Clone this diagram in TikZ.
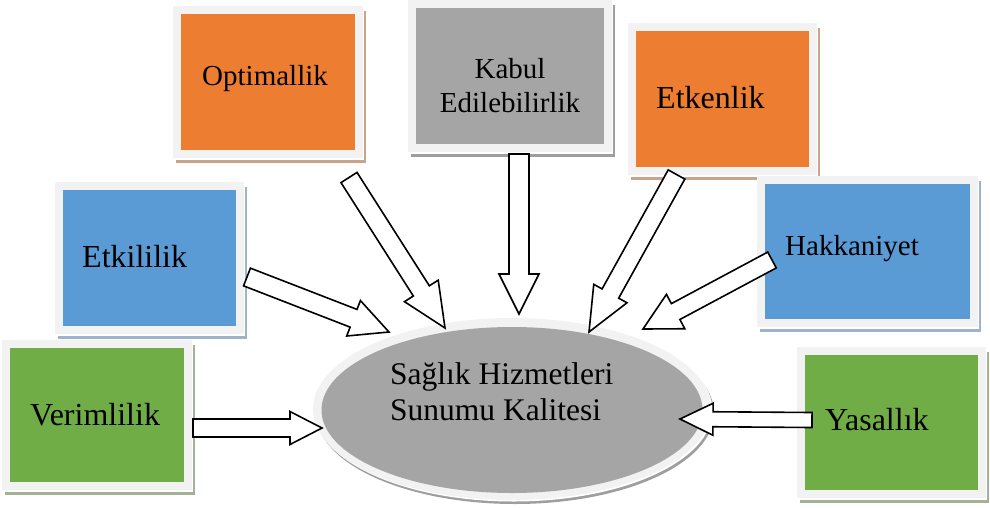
\documentclass[tikz,border=0pt]{standalone}
\usepackage{fontspec}
\setmainfont{Liberation Serif}
\usetikzlibrary{calc,shapes.geometric}
\definecolor{framegray}{HTML}{F2F2F2}
\definecolor{orangeF}{HTML}{ED7D31}
\definecolor{blueF}{HTML}{5B9BD5}
\definecolor{greenF}{HTML}{70AD47}
\definecolor{grayF}{HTML}{A5A5A5}
\definecolor{orangeS}{HTML}{C9A38A}
\definecolor{blueS}{HTML}{9DB3CB}
\definecolor{greenS}{HTML}{A3B296}
\definecolor{grayS}{HTML}{9E9E9E}
\tikzset{
  blockarr/.style={draw=black, fill=white, line width=1.6pt, line join=miter},
  lbl/.style={anchor=base west, inner sep=0, text=black},
  clbl/.style={anchor=base, inner sep=0, text=black},
}
% name, x1, y1, x2, y2, fill, shadow
\newcommand\FacBox[7]{%
  \fill[#7] ({#2+3},{#3+5}) rectangle ({#4+3},{#5+5});
  \fill[white] ({#2},{#3}) rectangle ({#4+1},{#5+1.5});
  \fill[framegray] (#2,#3) rectangle (#4,#5);
  \fill[#6] ({#2+8},{#3+8}) rectangle ({#4-8},{#5-8});
  \coordinate (#1) at ({(#2+#4)/2},{(#3+#5)/2});
}
% tail, tip, shaft half width, head half width, head length
\newcommand\BlkArrow[5]{%
  \coordinate (hb) at ($(#2)!#5!(#1)$);
  \draw[blockarr] ($(#1)!#3!90:(#2)$) -- ($(hb)!#3!-90:(#1)$) -- ($(hb)!#4!-90:(#1)$)
     -- (#2) -- ($(hb)!#4!90:(#1)$) -- ($(hb)!#3!90:(#1)$) -- ($(#1)!#3!-90:(#2)$) -- cycle;
}
\begin{document}
\begin{tikzpicture}[x=1pt,y=-1pt]
\useasboundingbox (0,0) rectangle (990,507);

% boxes
\FacBox{opt}{173}{6}{363}{158}{orangeF}{orangeS}
\FacBox{kab}{408}{0}{612}{152}{grayF}{grayS}
\FacBox{etk}{628}{23}{817}{175}{orangeF}{orangeS}
\FacBox{etki}{55}{182}{244}{334}{blueF}{blueS}
\FacBox{hak}{757}{176}{978}{327}{blueF}{blueS}
\FacBox{ver}{2}{340}{192}{490}{greenF}{greenS}
\FacBox{yas}{797}{347}{986}{498}{greenF}{greenS}

% texts
\node[lbl, font=\fontsize{29}{33}\selectfont] (optT) at (202,85) {Optimallik};
\node[clbl, font=\fontsize{29}{33}\selectfont] (kabT1) at (510,78) {Kabul};
\node[clbl, font=\fontsize{29}{33}\selectfont] (kabT2) at (510,112) {Edilebilirlik};
\node[lbl, font=\fontsize{32}{36}\selectfont] (etkT) at (656,108) {Etkenlik};
\node[lbl, font=\fontsize{32}{36}\selectfont] (etkiT) at (82,267) {Etkililik};
\node[lbl, font=\fontsize{29}{33}\selectfont] (hakT) at (785,255) {Hakkaniyet};
\node[lbl, font=\fontsize{32}{36}\selectfont] (verT) at (30,425) {Verimlilik};
\node[lbl, font=\fontsize{32}{36}\selectfont] (yasT) at (825,430) {Yasallık};

% central ellipse
\node[ellipse, fill=grayS, minimum width=398pt, minimum height=182pt, inner sep=0] (qualS) at (515,413) {};
\node[ellipse, fill=white, minimum width=398pt, minimum height=182pt, inner sep=0] (qualW) at (513.5,410.5) {};
\node[ellipse, fill=framegray, minimum width=398pt, minimum height=182pt, inner sep=0] (qual) at (512,409) {};
\node[ellipse, fill=grayF, minimum width=381pt, minimum height=166pt, inner sep=0] (qualI) at (512,410) {};
\node[lbl, font=\fontsize{31.5}{36}\selectfont] (qualT1) at (390,384) {Sağlık Hizmetleri};
\node[lbl, font=\fontsize{31.5}{36}\selectfont] (qualT2) at (390,420) {Sunumu Kalitesi};

% arrow end points
\coordinate (verA) at (193,428);  \coordinate (verB) at (322,428);
\coordinate (yasA) at (812,420);  \coordinate (yasB) at (680,419);
\coordinate (kabA) at (519,154);  \coordinate (kabB) at (519,314);
\coordinate (etkA) at (676.5,174.5); \coordinate (etkB) at (589,332);
\coordinate (optA) at (349,177.5); \coordinate (optB) at (445,328);
\coordinate (etkiA) at (247,277); \coordinate (etkiB) at (389,332);
\coordinate (hakA) at (772,260);  \coordinate (hakB) at (643,329);

\BlkArrow{verA}{verB}{9pt}{16.5pt}{32pt}
\BlkArrow{yasA}{yasB}{7.5pt}{16pt}{33pt}
\BlkArrow{kabA}{kabB}{10pt}{20pt}{40pt}
\BlkArrow{etkA}{etkB}{9.5pt}{19pt}{44pt}
\BlkArrow{optA}{optB}{9.5pt}{20pt}{44pt}
\BlkArrow{etkiA}{etkiB}{9.5pt}{19pt}{38pt}
\BlkArrow{hakA}{hakB}{9pt}{19.5pt}{37pt}
\end{tikzpicture}
\end{document}
